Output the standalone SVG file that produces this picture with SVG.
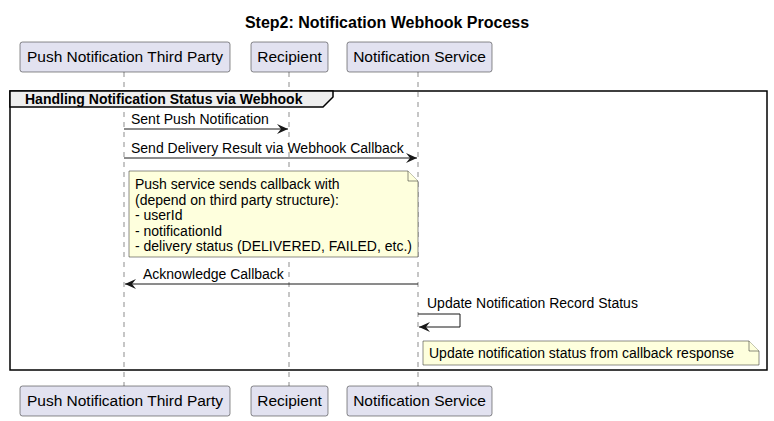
<svg xmlns="http://www.w3.org/2000/svg" width="774" height="421" viewBox="0 0 774 421">
<defs>
<style>
text{font-family:"Liberation Sans",Arial,sans-serif;fill:#000}
.t{font-size:16px;font-weight:bold}
.p{font-size:15.5px}
.m{font-size:14px}
.pbox{fill:#E2E2F0;stroke:#181818;stroke-width:0.5}
.life{stroke:#181818;stroke-width:0.5;stroke-dasharray:5,5;fill:none}
.msg{stroke:#181818;stroke-width:1;fill:none}
.note{fill:#FEFFDD;stroke:#181818;stroke-width:0.5}
</style>
<marker id="ah" viewBox="0 0 12 10" refX="11" refY="5" markerWidth="12" markerHeight="10" markerUnits="userSpaceOnUse" orient="auto">
<path d="M0,0 L11,5 L0,10 L4,5 Z" fill="#181818"/>
</marker>
</defs>
<rect width="774" height="421" fill="#fff"/>
<text class="t" x="387" y="28" text-anchor="middle">Step2: Notification Webhook Process</text>

<g id="lifelines">
<line class="life" x1="124" y1="72" x2="124" y2="386"/>
<line class="life" x1="289" y1="72" x2="289" y2="386"/>
<line class="life" x1="418" y1="72" x2="418" y2="386"/>
</g>

<g id="group">
<rect x="10" y="91" width="757" height="279" fill="none" stroke="#000" stroke-width="1.5"/>
<path d="M10,91 L333,91 L333,97 L323,107 L10,107 Z" fill="#EEEEEE" stroke="#000" stroke-width="1.5"/>
<text class="m" x="25" y="104" font-weight="bold">Handling Notification Status via Webhook</text>
</g>

<g id="p1">
<rect class="pbox" x="20" y="42" width="210" height="30" rx="2.5"/>
<text class="p" x="125" y="62" text-anchor="middle">Push Notification Third Party</text>
</g>
<g id="p2">
<rect class="pbox" x="251" y="42" width="77" height="30" rx="2.5"/>
<text class="p" x="289.5" y="62" text-anchor="middle">Recipient</text>
</g>
<g id="p3">
<rect class="pbox" x="347" y="42" width="145" height="30" rx="2.5"/>
<text class="p" x="419.5" y="62" text-anchor="middle">Notification Service</text>
</g>
<g id="p1b">
<rect class="pbox" x="20" y="386" width="210" height="30" rx="2.5"/>
<text class="p" x="125" y="406" text-anchor="middle">Push Notification Third Party</text>
</g>
<g id="p2b">
<rect class="pbox" x="251" y="386" width="77" height="30" rx="2.5"/>
<text class="p" x="289.5" y="406" text-anchor="middle">Recipient</text>
</g>
<g id="p3b">
<rect class="pbox" x="347" y="386" width="145" height="30" rx="2.5"/>
<text class="p" x="419.5" y="406" text-anchor="middle">Notification Service</text>
</g>

<g id="connectors">
<line class="msg" x1="124" y1="129" x2="288" y2="129" marker-end="url(#ah)"/>
<text class="m" x="131" y="124">Sent Push Notification</text>
<line class="msg" x1="124" y1="158" x2="417" y2="158" marker-end="url(#ah)"/>
<text class="m" x="131" y="153">Send Delivery Result via Webhook Callback</text>
<line class="msg" x1="418" y1="284" x2="125" y2="284" marker-end="url(#ah)"/>
<text class="m" x="143" y="279">Acknowledge Callback</text>
<path class="msg" d="M418,314 L460,314 L460,327 L419,327" marker-end="url(#ah)"/>
<text class="m" x="427" y="308">Update Notification Record Status</text>
</g>

<g id="note1">
<path class="note" d="M129,171 L408,171 L418,181 L418,257 L129,257 Z"/>
<path class="note" d="M408,171 L408,181 L418,181"/>
<text class="m" x="135" y="189">Push service sends callback with</text>
<text class="m" x="135" y="204.5">(depend on third party structure):</text>
<text class="m" x="135" y="220">- userId</text>
<text class="m" x="135" y="235.5">- notificationId</text>
<text class="m" x="135" y="251">- delivery status (DELIVERED, FAILED, etc.)</text>
</g>

<g id="note2">
<path class="note" d="M423,341 L749,341 L759,351 L759,365 L423,365 Z"/>
<path class="note" d="M749,341 L749,351 L759,351"/>
<text class="m" x="429" y="358">Update notification status from callback response</text>
</g>
</svg>
